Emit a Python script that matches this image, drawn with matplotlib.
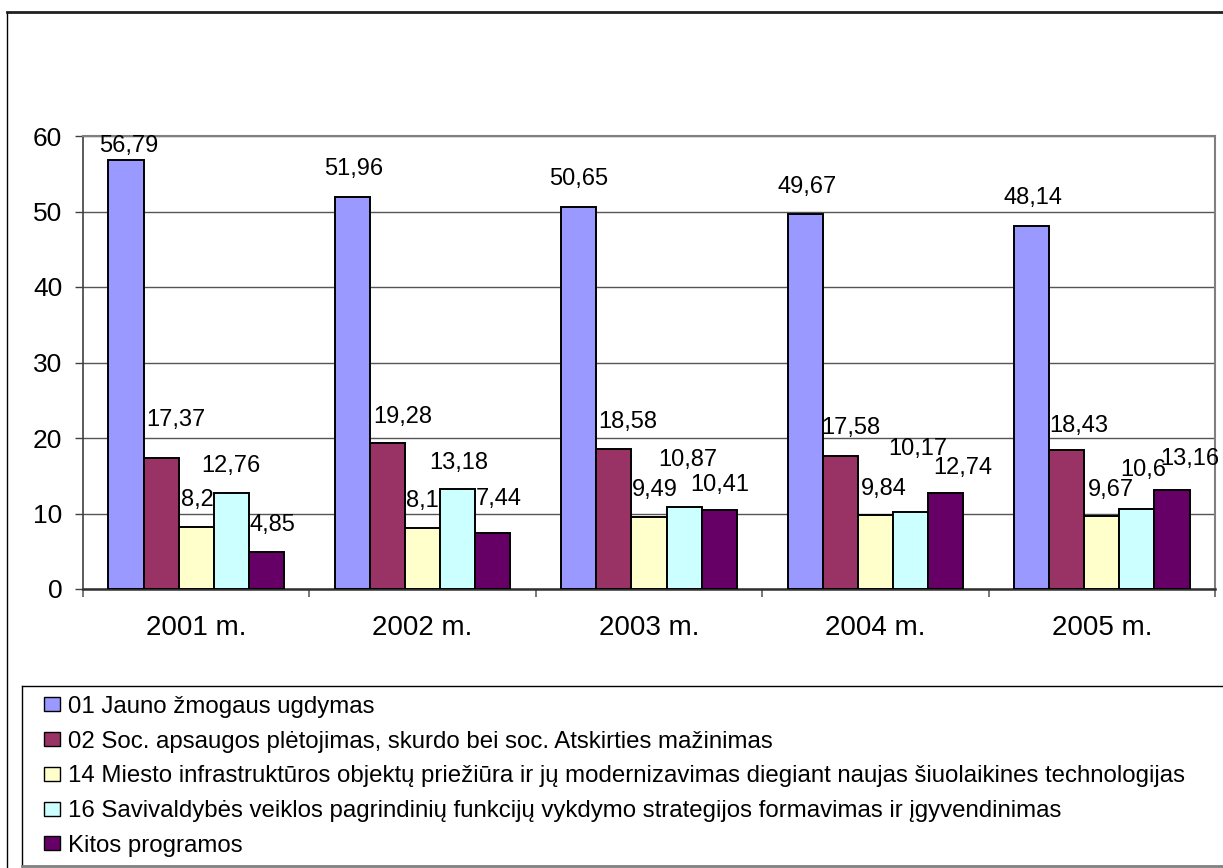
import matplotlib
matplotlib.use("Agg")
import matplotlib.pyplot as plt
import numpy as np
from matplotlib.patches import Patch
from matplotlib.lines import Line2D

plt.rcParams['font.family'] = ['Liberation Sans', 'DejaVu Sans']

categories = ["2001 m.", "2002 m.", "2003 m.", "2004 m.", "2005 m."]
series_names = [
    "01 Jauno žmogaus ugdymas",
    "02 Soc. apsaugos plėtojimas, skurdo bei soc. Atskirties mažinimas",
    "14 Miesto infrastruktūros objektų priežiūra ir jų modernizavimas diegiant naujas šiuolaikines technologijas",
    "16 Savivaldybės veiklos pagrindinių funkcijų vykdymo strategijos formavimas ir įgyvendinimas",
    "Kitos programos",
]
s01 = [56.79, 51.96, 50.65, 49.67, 48.14]
s02 = [17.37, 19.28, 18.58, 17.58, 18.43]
s14 = [8.2, 8.1, 9.49, 9.84, 9.67]
s16 = [12.76, 13.18, 10.87, 10.17, 10.6]
skitos = [4.85, 7.44, 10.41, 12.74, 13.16]
colors = ["#9999FF", "#993366", "#FFFFCC", "#CCFFFF", "#660066"]

# value-label nudges (pixels) relative to bar top centre, per series / per year
label_dx = [[3, 1, 0, 2, 1],
            [15, 15, 14, 11, 12],
            [1, 0, 6, 8, 9],
            [0, 1, 4, 7, 6],
            [6, 6, 1, 17, 18]]
label_dy = [[14, 28, 28, 27, 28],
            [38, 26, 27, 28, 24],
            [27, 27, 27, 26, 26],
            [27, 26, 47, 63, 39],
            [27, 34, 25, 25, 31]]

W, H = 1223, 868
fig = plt.figure(figsize=(W / 100, H / 100), dpi=100)
T = fig.transFigure

def fline(x0, y0, x1, y1, **kw):
    fig.add_artist(Line2D([x0 / W, x1 / W], [1 - y0 / H, 1 - y1 / H], transform=T, **kw))

# outer chart border
fline(7, 12, 7, 868, color='black', lw=1)
fline(7, 12, 1223, 12, color='#202020', lw=2)

ax = fig.add_axes([83 / W, 1 - 589 / H, (1215 - 83) / W, (589 - 136) / H])

data = [s01, s02, s14, s16, skitos]
x = np.arange(len(categories))
bw = 0.155
for i, (vals, c) in enumerate(zip(data, colors)):
    pos = x + (i - 2) * bw
    ax.bar(pos, vals, width=bw, color=c, edgecolor='black', linewidth=1.4, zorder=3)
    for j, (p, v) in enumerate(zip(pos, vals)):
        lab = f"{v:g}".replace('.', ',')
        ax.annotate(lab, (p, v), xytext=(label_dx[i][j], label_dy[i][j]),
                    textcoords='offset pixels', ha='center', va='center',
                    fontsize=17, zorder=4)

ax.set_ylim(0, 60)
ax.set_xlim(-0.5, len(categories) - 0.5)
ax.set_yticks(np.arange(0, 61, 10))
ax.yaxis.grid(True, color='#555555', lw=1, zorder=0)
ax.set_axisbelow(True)
ax.set_xticks(x)
ax.set_xticklabels(categories, fontsize=20)
ax.set_xticks(np.arange(-0.5, len(categories), 1), minor=True)
ax.tick_params(axis='x', which='major', length=0, pad=19)
ax.tick_params(axis='x', which='minor', length=6, width=1.2, direction='out', color='#606060')
ax.tick_params(axis='y', labelsize=19, length=6, width=1, pad=9, direction='out', color='#404040')
for s in ['top', 'right']:
    ax.spines[s].set_color('#808080')
    ax.spines[s].set_linewidth(1.5)
ax.spines['left'].set_linewidth(1.2)
ax.spines['left'].set_color('#404040')
ax.spines['bottom'].set_linewidth(1.8)
ax.spines['bottom'].set_color('#303030')

# legend frame
fline(22, 686, 1223, 686, color='black', lw=1)
fline(22, 686, 22, 866, color='black', lw=1)
fline(22, 866, 1223, 866, color='#808080', lw=2)

handles = [Patch(facecolor=c, edgecolor='black', linewidth=1) for c in colors]
leg = fig.legend(handles, series_names, loc='upper left', bbox_to_anchor=(44 / W, 1 - 696 / H),
                 frameon=False, fontsize=17.3, handlelength=0.68, handleheight=0.52,
                 handletextpad=0.3, labelspacing=0.53, borderaxespad=0, borderpad=0)

fig.savefig("out.png", dpi=100)
